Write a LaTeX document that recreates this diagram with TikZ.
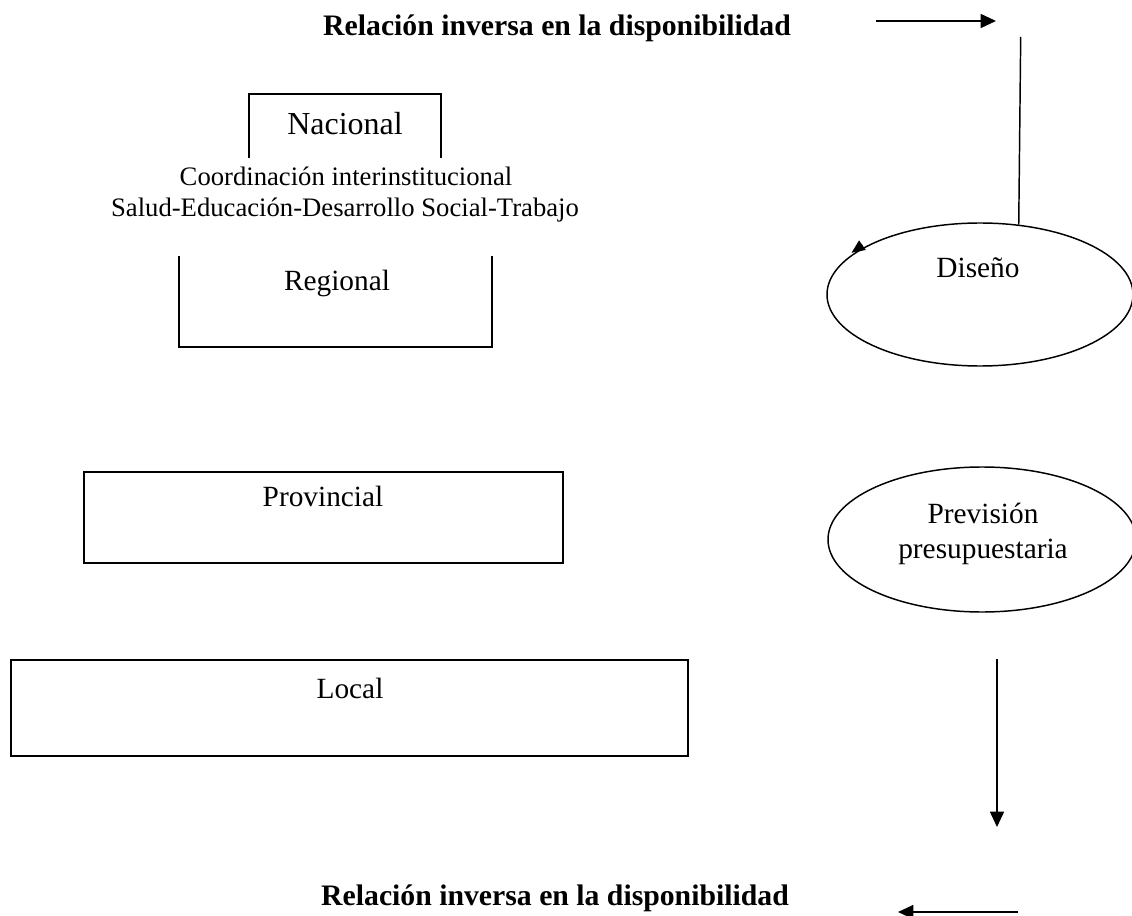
\documentclass[tikz,border=0pt]{standalone}
\usepackage{fontspec}
\setmainfont{Liberation Serif}
\usetikzlibrary{shapes.geometric,arrows.meta}
\begin{document}
\begin{tikzpicture}[x=0.75pt,y=-0.75pt,
  lbl/.style={font=\fontsize{22}{26}\selectfont, inner sep=0pt, anchor=base},
  big/.style={font=\fontsize{24}{28}\selectfont, inner sep=0pt, anchor=base},
  small/.style={font=\fontsize{20}{24}\selectfont, inner sep=0pt, anchor=base},
  ttl/.style={font=\fontsize{22.3}{26}\selectfont\bfseries, inner sep=0pt, anchor=base},
  boxline/.style={line width=1.3pt},
  conn/.style={line width=1.1pt},
  arr/.style={conn,-{Triangle[length=11.5pt,width=10.5pt]}},
  ell/.style={draw, ellipse, line width=1.1pt, inner sep=0pt}
]
\useasboundingbox (0,0) rectangle (1132,916);
\clip (0,0) rectangle (1132,916);

% titles
\node[ttl] (t1) at (557,36) {Relación inversa en la disponibilidad};
\node[ttl] (t2) at (555,905) {Relación inversa en la disponibilidad};

% Nacional (open at bottom)
\draw[boxline] (249,158) -- (249,94) -- (441,94) -- (441,158);
\node[big] (nac) at (345,135) {Nacional};

% coordination text
\node[small] (co1) at (346,186) {Coordinación interinstitucional};
\node[small] (co2) at (345,217) {Salud-Educación-Desarrollo Social-Trabajo};

% Regional (open at top)
\draw[boxline] (179,256) -- (179,347) -- (492,347) -- (492,256);
\node[lbl] (reg) at (337,291) {Regional};

% Provincial
\draw[boxline] (84,472) rectangle (563,563);
\node[lbl] (prov) at (323,506) {Provincial};

% Local
\draw[boxline] (11,660) rectangle (688,756);
\node[lbl] (loc) at (350,698) {Local};

% ellipses
\node[ell, minimum width=229.5pt, minimum height=107.25pt] (dis) at (980,294.5) {};
\node[lbl] (distxt) at (978,278) {Diseño};
\node[ell, minimum width=231pt, minimum height=108.75pt] (prev) at (982,539.5) {};
\node[lbl] (prevtxt1) at (983,523) {Previsión};
\node[lbl] (prevtxt2) at (983,558) {presupuestaria};

% arrowhead on the Diseño ellipse
\coordinate (ea) at (862.4,245.2);
\coordinate (eb) at (851.5,252.8);
\draw[conn,-{Triangle[length=10pt,width=8.5pt]}] (ea) -- (eb);

% top arrow
\coordinate (a1s) at (876,21);
\coordinate (a1e) at (996,21);
\draw[arr] (a1s) -- (a1e);

% vertical line down to the Diseño ellipse
\coordinate (v1) at (1020.7,37);
\draw[conn] (v1) -- (dis.61);

% down arrow
\coordinate (d1s) at (997,659);
\coordinate (d1e) at (997,827);
\draw[arr] (d1s) -- (d1e);

% bottom arrow
\coordinate (b1s) at (1018,912);
\coordinate (b1e) at (898,912);
\draw[arr] (b1s) -- (b1e);
\end{tikzpicture}
\end{document}
